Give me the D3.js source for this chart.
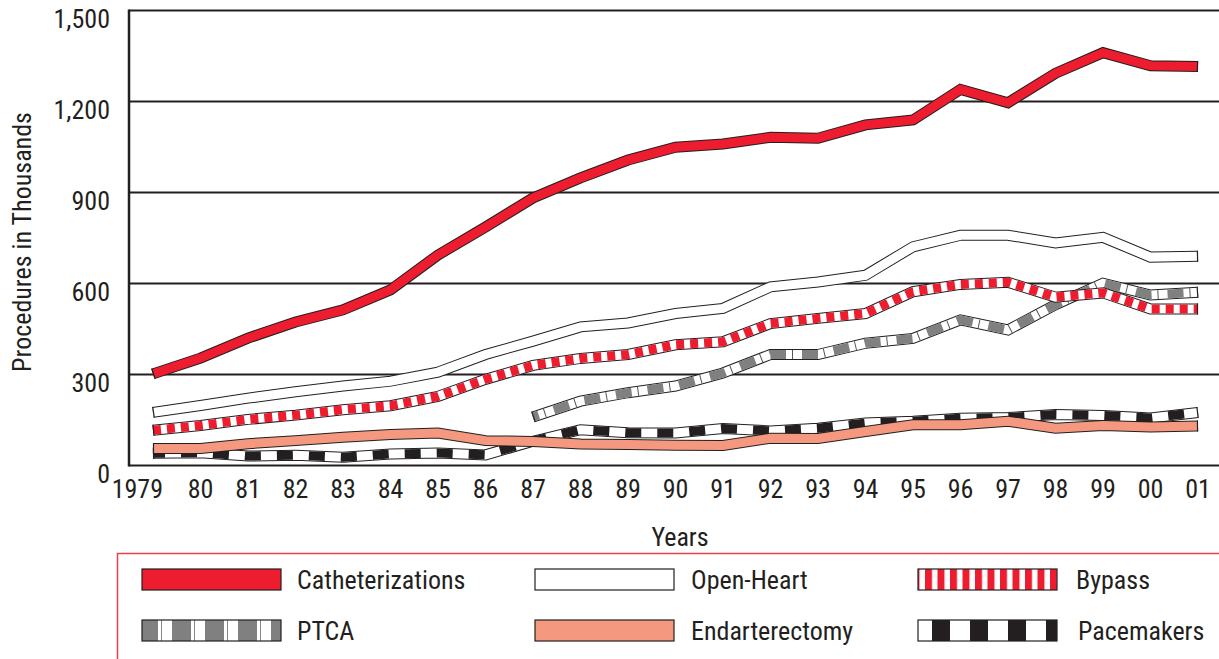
<!DOCTYPE html>
<html>
<head>
<meta charset="utf-8">
<script src="https://cdn.jsdelivr.net/npm/d3@7"></script>
<style>
  html, body { margin: 0; padding: 0; background: #fff; }
  svg { display: block; }
  text { font-family: "Liberation Sans Narrow", "Arial Narrow", "Roboto Condensed", Lato, sans-serif; fill: #231f20; }
</style>
</head>
<body>
<svg id="chart" width="1219" height="659"></svg>
<script>
// Cardiovascular procedures, in thousands, 1979–2001
const years = [1979, 1980, 1981, 1982, 1983, 1984, 1985, 1986, 1987, 1988, 1989, 1990,
               1991, 1992, 1993, 1994, 1995, 1996, 1997, 1998, 1999, 2000, 2001];
const yearLabels = ["1979", "80", "81", "82", "83", "84", "85", "86", "87", "88", "89", "90",
                    "91", "92", "93", "94", "95", "96", "97", "98", "99", "00", "01"];

const catheterizations = [302, 354, 420, 473, 513, 579, 694, 786, 882, 948, 1007, 1049,
                          1060, 1082, 1079, 1123, 1139, 1240, 1196, 1293, 1361, 1318, 1315];
const openHeart = [175, 198, 222, 243, 262, 278, 308, 366, 410, 457, 470, 501,
                   518, 589, 605, 627, 721, 759, 759, 734, 752, 687, 690];
const bypass = [116, 132, 152, 166, 184, 197, 228, 284, 330, 353, 366, 398,
                408, 468, 485, 501, 573, 597, 604, 555, 569, 516, 516];
const ptca = [null, null, null, null, null, null, null, null, 160, 212, 240, 262,
              305, 366, 366, 403, 419, 480, 447, 530, 601, 562, 571];
const endarterectomy = [56, 56, 72, 82, 93, 102, 107, 82, 79, 71, 69, 67,
                        66, 90, 89, 112, 134, 134, 146, 123, 132, 127, 130];
const pacemakers = [40, 42, 31, 34, 27, 38, 41, 35, 80, 118, 108, 107,
                    122, 114, 123, 140, 146, 156, 158, 168, 165, 157, 175];

const yTicks = [0, 300, 600, 900, 1200, 1500];

const INK = "#231f20";

// Series styles, listed bottom-most first so later ones paint over earlier ones
const series = [
  { name: "Pacemakers",       values: pacemakers,       base: "#ffffff", dash: { color: INK, array: "16,16", offset: 4 } },
  { name: "Endarterectomy",   values: endarterectomy,   base: "#f4997f" },
  { name: "PTCA",             values: ptca,             base: "#ffffff", dash: { color: "#808080", array: "16,16", offset: 10 },
                                                        hair: { color: "#555555", array: "1,31", offset: 20 } },
  { name: "Bypass",           values: bypass,           base: "#ffffff", dash: { color: "#ed1c2e", array: "8,6", offset: 0 } },
  { name: "Open-Heart",       values: openHeart,        base: "#ffffff" },
  { name: "Catheterizations", values: catheterizations, base: "#ed1c2e" }
];

const svg = d3.select("#chart");

const x = d3.scaleLinear().domain([1979, 2001]).range([153, 1198]);
const y = d3.scaleLinear().domain([0, 1500]).range([465.5, 10.5]);

const plotLeft = 129, plotRight = 1219;

// Horizontal grid lines
svg.append("g").selectAll("line").data(yTicks).join("line")
  .attr("x1", plotLeft).attr("x2", plotRight)
  .attr("y1", d => y(d)).attr("y2", d => y(d))
  .attr("stroke", INK).attr("stroke-width", 2);

// Vertical axis line
svg.append("line")
  .attr("x1", plotLeft).attr("x2", plotLeft)
  .attr("y1", y(1500) - 1).attr("y2", y(0) + 1)
  .attr("stroke", INK).attr("stroke-width", 2.5);

// Y tick labels (top of the digits sits on the grid line)
svg.append("g").selectAll("text").data(yTicks).join("text")
  .attr("x", 110)
  .attr("y", d => y(d) + 17)
  .attr("text-anchor", "end")
  .attr("font-size", 26)
  .text(d => d3.format(",")(d));

// X tick labels
svg.append("g").selectAll("text").data(years).join("text")
  .attr("x", (d, i) => i === 0 ? x(d) + 10 : x(d))
  .attr("y", 498)
  .attr("text-anchor", (d, i) => i === 0 ? "end" : "middle")
  .attr("font-size", 26)
  .text((d, i) => yearLabels[i]);

// Axis titles
svg.append("text")
  .attr("x", 680).attr("y", 546)
  .attr("text-anchor", "middle")
  .attr("font-size", 26)
  .text("Years");

svg.append("text")
  .attr("transform", `translate(31, ${(y(0) + y(1500)) / 2 + 4}) rotate(-90)`)
  .attr("text-anchor", "middle")
  .attr("font-size", 26)
  .text("Procedures in Thousands");

// Thick outlined bands for each series
const line = d3.line()
  .defined(d => d.v != null)
  .x(d => x(d.year))
  .y(d => y(d.v));

const BAND = 11, INNER = 9;

const bands = svg.append("g");
series.forEach(s => {
  const pts = years.map((yr, i) => ({ year: yr, v: s.values[i] }));
  const g = bands.append("g");
  const common = sel => sel
    .attr("d", line(pts))
    .attr("fill", "none")
    .attr("stroke-linejoin", "miter")
    .attr("stroke-miterlimit", 10)
    .attr("stroke-linecap", "butt");

  g.append("path").call(common)
    .attr("stroke", INK).attr("stroke-width", BAND);

  g.append("path").call(common)
    .attr("stroke", s.base).attr("stroke-width", INNER);

  if (s.dash) {
    g.append("path").call(common)
      .attr("stroke", s.dash.color).attr("stroke-width", INNER)
      .attr("stroke-dasharray", s.dash.array)
      .attr("stroke-dashoffset", s.dash.offset);
  }
  if (s.hair) {
    g.append("path").call(common)
      .attr("stroke", s.hair.color).attr("stroke-width", INNER)
      .attr("stroke-dasharray", s.hair.array)
      .attr("stroke-dashoffset", s.hair.offset);
  }

  // Outline across both ends of the band
  const defined = pts.filter(p => p.v != null);
  const ends = [[defined[0], defined[1]], [defined[defined.length - 1], defined[defined.length - 2]]];
  ends.forEach(([a, b]) => {
    const ax = x(a.year), ay = y(a.v), bx = x(b.year), by = y(b.v);
    const len = Math.hypot(bx - ax, by - ay);
    const ux = (bx - ax) / len, uy = (by - ay) / len;
    const nx = -uy, ny = ux;
    const h = BAND / 2;
    const cx = ax + ux * 0.5, cy = ay + uy * 0.5;
    g.append("line")
      .attr("x1", cx + nx * h).attr("y1", cy + ny * h)
      .attr("x2", cx - nx * h).attr("y2", cy - ny * h)
      .attr("stroke", INK).attr("stroke-width", 1.2);
  });
});

// Legend
const legendG = svg.append("g");
legendG.append("path")
  .attr("d", "M117.5,660 L117.5,553.5 L1220,553.5")
  .attr("fill", "none")
  .attr("stroke", "#e8414b")
  .attr("stroke-width", 1.5);

const defs = svg.append("defs");

// Striped swatch fills
function stripePattern(id, width, stripes) {
  const p = defs.append("pattern")
    .attr("id", id)
    .attr("patternUnits", "userSpaceOnUse")
    .attr("width", width).attr("height", 40);
  stripes.forEach(st => {
    p.append("rect").attr("x", st[0]).attr("y", 0)
      .attr("width", st[1]).attr("height", 40).attr("fill", st[2]);
  });
  return `url(#${id})`;
}

const legendItems = [
  { name: "Catheterizations", col: 0, row: 0, fill: "#ed1c2e" },
  { name: "Open-Heart",       col: 1, row: 0, fill: "#ffffff" },
  { name: "Bypass",           col: 2, row: 0, fill: null, pattern: ["bypassStripe", 12.5, [[0, 12.5, "#ffffff"], [0, 7, "#ed1c2e"]]] },
  { name: "PTCA",             col: 0, row: 1, fill: null, pattern: ["ptcaStripe", 33, [[0, 33, "#ffffff"], [7, 19, "#808080"], [29, 1, "#888888"]]] },
  { name: "Endarterectomy",   col: 1, row: 1, fill: "#f4997f" },
  { name: "Pacemakers",       col: 2, row: 1, fill: null, pattern: ["paceStripe", 38, [[0, 38, "#ffffff"], [20, 18, INK]]] }
];

const colX = [142, 535, 918];
const textX = [297, 691, 1076];
const rowY = [569, 620];

legendItems.forEach(it => {
  const fill = it.pattern ? stripePattern(it.pattern[0], it.pattern[1], it.pattern[2]) : it.fill;
  const sx = colX[it.col], sy = rowY[it.row];
  legendG.append("rect")
    .attr("x", sx).attr("y", sy)
    .attr("width", 139).attr("height", 21)
    .attr("fill", fill)
    .attr("stroke", INK).attr("stroke-width", 1.2);
  legendG.append("text")
    .attr("x", textX[it.col] + (it.col === 2 && it.row === 1 ? 2 : 0))
    .attr("y", sy + 20)
    .attr("font-size", 26)
    .text(it.name);
});
</script>
</body>
</html>
